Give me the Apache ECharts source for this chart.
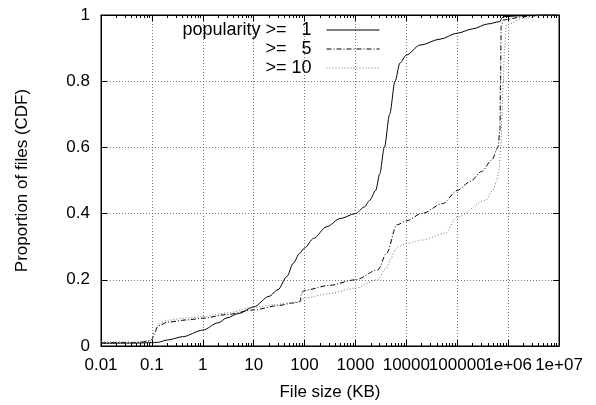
<!DOCTYPE html>
<html><head><meta charset="utf-8">
<script src="https://cdn.jsdelivr.net/npm/echarts@6/dist/echarts.min.js"></script>
<style>html,body{margin:0;padding:0;background:#fff}#c{width:596px;height:405px}</style>
</head><body><div id="c"></div>
<script>
// Data (file size in KB, CDF proportion)
const names = ['popularity >=   1', '>=   5', '>= 10'];
const x1 = [0.01,0.05,0.1,0.13,0.2,0.4,1,2,3,5,10,20,30,45,60,80,100,150,270,500,1000,1500,1900,2500,3000,3700,4700,6000,7500,10000,18600,46000,100000,200000,400000,690000,750000,800000,2000000,5000000,10000000];
const y1 = [0.008,0.009,0.01,0.011,0.018,0.028,0.048,0.07,0.085,0.098,0.118,0.15,0.17,0.21,0.25,0.28,0.296,0.325,0.36,0.385,0.40,0.42,0.44,0.47,0.52,0.60,0.70,0.80,0.855,0.879,0.909,0.927,0.945,0.958,0.973,0.98,0.99,0.995,0.998,1.0,1.0];
const x5 = [0.01,0.05,0.09,0.1,0.11,0.13,0.15,0.2,0.5,1,3,10,30,60,81,88,100,300,1000,2750,4100,6500,10000,20000,52000,100000,177000,300000,480000,630000,690000,710000,730000,800000,2000000,5000000,10000000];
const y5 = [0.01,0.01,0.015,0.02,0.035,0.058,0.064,0.072,0.079,0.084,0.095,0.109,0.122,0.13,0.133,0.162,0.168,0.183,0.2,0.23,0.28,0.366,0.378,0.40,0.43,0.47,0.496,0.527,0.562,0.60,0.65,0.80,0.965,0.985,0.995,1.0,1.0];
const x10 = [0.01,0.05,0.09,0.1,0.11,0.13,0.15,0.2,0.5,1,3,10,30,60,85,90,100,300,1000,2700,4000,5000,6000,7000,10000,20000,57000,100000,360000,500000,600000,660000,720000,760000,800000,850000,930000,2000000,5000000,10000000];
const y10 = [0.012,0.012,0.016,0.02,0.04,0.063,0.07,0.078,0.085,0.089,0.1,0.117,0.126,0.132,0.135,0.142,0.145,0.158,0.175,0.2,0.235,0.265,0.29,0.30,0.31,0.32,0.34,0.39,0.44,0.47,0.50,0.53,0.60,0.70,0.80,0.90,0.97,0.99,1.0,1.0];

const minorX = [];
for (let e = -2; e < 7; e++) for (let m = 2; m <= 9; m++) minorX.push(m * Math.pow(10, e));
const zip = (a, b) => a.map((v, i) => [v, b[i]]);
const FONT = 'Liberation Sans';
const FS = 17;
function fmtX(v) {
  const e = Math.round(Math.log10(v));
  if (e < 0) return (Math.pow(10, e)).toFixed(-e);
  if (e <= 5) return String(Math.pow(10, e));
  return '1e+0' + e;
}
const baseX = {type: 'log', logBase: 10, min: 0.01, max: 10000000, interval: 1};
const chart = echarts.init(document.getElementById('c'), null, {renderer: 'canvas'});
chart.setOption({
  animation: false,
  textStyle: {fontFamily: FONT},
  grid: {left: 101, right: 37, top: 15, bottom: 59, show: true, borderColor: '#000', borderWidth: 1, outerBoundsMode: 'none', containLabel: false},
  legend: {
    orient: 'vertical', align: 'right', right: 216, top: 21, padding: 0, itemGap: 1,
    itemWidth: 53, itemHeight: 14, data: names,
    formatter: n => n + '  ',
    itemStyle: {color: 'rgba(0,0,0,0)', borderWidth: 0, opacity: 0},
    lineStyle: {width: 1},
    textStyle: {fontFamily: FONT, fontSize: 18, color: '#000'}
  },
  xAxis: [
    Object.assign({}, baseX, {
      position: 'bottom', name: 'File size (KB)', nameLocation: 'middle', nameGap: 38,
      nameTextStyle: {fontFamily: FONT, fontSize: FS, color: '#000'},
      axisLine: {lineStyle: {color: '#000', width: 1}},
      axisTick: {inside: true, length: 6, lineStyle: {color: '#000'}},
      axisLabel: {fontFamily: FONT, fontSize: FS, color: '#000', margin: 11, formatter: fmtX},
      splitLine: {show: true, lineStyle: {color: '#777', type: [1, 2], width: 1}}
    }),
    Object.assign({}, baseX, {
      position: 'bottom', axisLine: {show: false},
      axisTick: {inside: true, length: 3, customValues: minorX, lineStyle: {color: '#000'}},
      axisLabel: {show: false}, splitLine: {show: false}
    }),
    Object.assign({}, baseX, {
      position: 'top', axisLine: {lineStyle: {color: '#000'}},
      axisTick: {inside: true, length: 6, lineStyle: {color: '#000'}},
      axisLabel: {show: false}, splitLine: {show: false}
    }),
    Object.assign({}, baseX, {
      position: 'top', axisLine: {show: false},
      axisTick: {inside: true, length: 3, customValues: minorX, lineStyle: {color: '#000'}},
      axisLabel: {show: false}, splitLine: {show: false}
    })
  ],
  yAxis: [
    {
      type: 'value', min: 0, max: 1, interval: 0.2, position: 'left',
      name: 'Proportion of files (CDF)', nameLocation: 'middle', nameGap: 70,
      nameTextStyle: {fontFamily: FONT, fontSize: FS, color: '#000'},
      axisLine: {show: true, lineStyle: {color: '#000'}},
      axisTick: {show: true, inside: true, length: 6, lineStyle: {color: '#000'}},
      axisLabel: {fontFamily: FONT, fontSize: FS, color: '#000', margin: 11},
      splitLine: {show: true, lineStyle: {color: '#777', type: [1, 2], width: 1}}
    },
    {
      type: 'value', min: 0, max: 1, interval: 0.2, position: 'right',
      axisLine: {show: true, lineStyle: {color: '#000'}},
      axisTick: {show: true, inside: true, length: 6, lineStyle: {color: '#000'}},
      axisLabel: {show: false}, splitLine: {show: false}
    }
  ],
  series: [
    {name: names[0], type: 'line', data: zip(x1, y1), symbol: 'none', smooth: 0.3, smoothMonotone: 'x', lineStyle: {color: '#000', width: 1, type: 'solid'}, itemStyle: {color: '#000'}},
    {name: names[1], type: 'line', data: zip(x5, y5), symbol: 'none', smooth: 0.3, smoothMonotone: 'x', lineStyle: {color: '#000', width: 1, type: [5, 2, 1, 2]}, itemStyle: {color: '#000'}},
    {name: names[2], type: 'line', data: zip(x10, y10), symbol: 'none', smooth: 0.3, smoothMonotone: 'x', lineStyle: {color: '#777', width: 1, type: [1, 2]}, itemStyle: {color: '#777'}}
  ]
});
</script></body></html>
